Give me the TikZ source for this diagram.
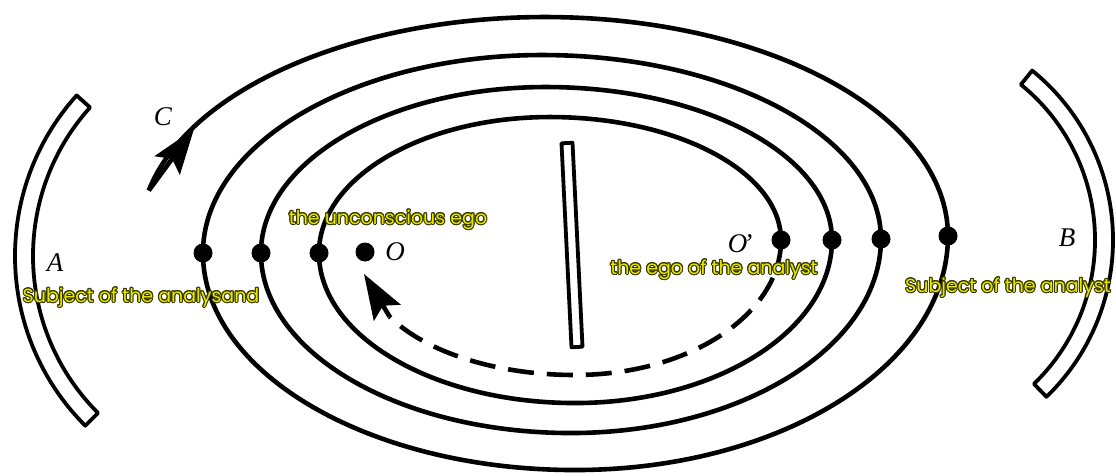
\documentclass[tikz,border=0pt]{standalone}
\usepackage{fontspec}
\setmainfont{Liberation Serif}
\newfontfamily\lblfont{Poppins}
\usepackage[copies]{contour}
\usetikzlibrary{arrows.meta,calc}
\definecolor{lblyellow}{RGB}{230,230,0}
\definecolor{lbledge}{RGB}{55,55,0}
\contourlength{1pt}
\contournumber{16}
\begin{document}
\begin{tikzpicture}[x=1pt,y=1pt,
  spiral/.style={line width=4.6pt, line join=round},
  band/.style={line width=3.8pt, line join=round},
  dot/.style={circle, fill=black, inner sep=0pt, minimum size=19pt},
  letter/.style={font=\fontsize{27}{27}\selectfont\itshape, inner sep=0pt},
  lbl/.style={font=\lblfont\fontsize{19}{19}\selectfont, inner sep=0pt, text=lblyellow},
  tip/.style={-{Stealth[length=45pt, width=31pt, inset=8pt]}, line width=4.6pt}
]
\useasboundingbox (0,0) rectangle (1116,475);

% bands A and B
\coordinate (ac) at (255,219);
\draw[band] ($(ac)+(138:222)$) arc[start angle=138,end angle=225,radius=222]
  -- ($(ac)+(225:240)$) arc[start angle=225,end angle=138,radius=240] -- cycle;
\coordinate (bc) at (895,235);
\draw[band] ($(bc)+(-46:200)$) arc[start angle=-46,end angle=51,radius=200]
  -- ($(bc)+(51:218)$) arc[start angle=51,end angle=-46,radius=218] -- cycle;

% central bar
\draw[line width=3.8pt, line join=round] (561.5,331.7) -- (572.5,332.3) -- (582.5,128.3) -- (571.5,127.7) -- cycle;

% spiral
\coordinate (cs) at (148.8,284.5);
\draw[spiral] (cs) arc[start angle=168,end angle=90,x radius=405,y radius=219]
  arc[start angle=90,end angle=0,x radius=403,y radius=219]
  arc[start angle=0,end angle=-90,x radius=373,y radius=234]
  arc[start angle=-90,end angle=-180,x radius=372,y radius=217]
  arc[start angle=180,end angle=90,x radius=339,y radius=198]
  arc[start angle=90,end angle=0,x radius=339,y radius=184]
  arc[start angle=0,end angle=-90,x radius=310,y radius=194]
  arc[start angle=-90,end angle=-180,x radius=310,y radius=180]
  arc[start angle=180,end angle=90,x radius=285,y radius=166]
  arc[start angle=90,end angle=0,x radius=286,y radius=153]
  arc[start angle=0,end angle=-90,x radius=257,y radius=163]
  arc[start angle=-90,end angle=-180,x radius=256,y radius=150]
  arc[start angle=180,end angle=90,x radius=231,y radius=136]
  arc[start angle=90,end angle=0,x radius=231,y radius=123];

% dashed return
\coordinate (db) at (389.6,158.4);
\draw[spiral, dash pattern=on 26pt off 13pt] (781,235)
  arc[start angle=0,end angle=-90,x radius=206,y radius=135]
  arc[start angle=-90,end angle=-152,x radius=210,y radius=110];

% arrows
\coordinate (ct) at (194,346);
\draw[tip] (cs) -- (ct);
\coordinate (ot) at (364,201);
\draw[tip] (db) -- (ot);

% dots
\node[dot] (r1) at (948,239) {};
\node[dot] (r2) at (881,236) {};
\node[dot] (r3) at (832,235) {};
\node[dot] (r4) at (781,235) {};
\node[dot] (l1) at (203,222) {};
\node[dot] (l2) at (261,222) {};
\node[dot] (l3) at (319,222) {};
\node[dot] (o) at (365,223) {};

% letters
\node[letter] (lA) at (55,212) {A};
\node[letter] (lC) at (163,358) {C};
\node[letter] (lB) at (1067,237) {B};
\node[letter] (lO) at (395,223) {O};
\node[letter] (lOp) at (740,231) {O\kern-4pt’};

% yellow captions
\node[lbl] (sa) at (141,177) {\contour{lbledge}{Subject of the analysand}};
\node[lbl] (ue) at (388,255) {\contour{lbledge}{the unconscious ego}};
\node[lbl] (ea) at (714,205) {\contour{lbledge}{the ego of the analyst}};
\node[lbl] (sb) at (1008,187) {\contour{lbledge}{Subject of the analyst}};
\end{tikzpicture}
\end{document}
